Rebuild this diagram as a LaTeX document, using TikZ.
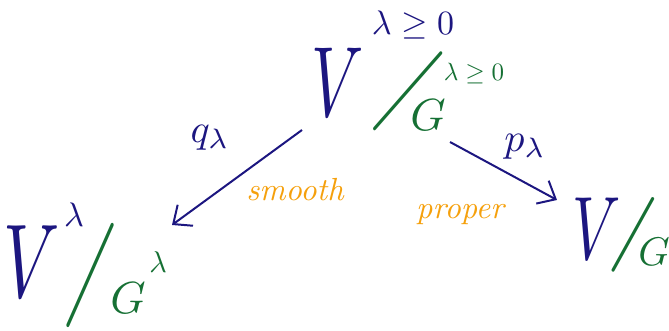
\documentclass[tikz,border=0pt]{standalone}
\usepackage{graphicx}
\usetikzlibrary{arrows.meta,calc}
\definecolor{quotblue}{RGB}{28,22,128}
\definecolor{quotgreen}{RGB}{22,112,52}
\definecolor{maporange}{RGB}{245,160,12}
\def\sz#1#2{\scalebox{#1}{#2}}
\def\quotslash#1#2{\rotatebox{#1}{\scalebox{8}[#2]{$/$}}}

\begin{document}
\begin{tikzpicture}[x=1pt,y=1pt,
  vtxt/.style={inner sep=0,text=quotblue},
  gtxt/.style={inner sep=0,text=quotgreen},
  mtxt/.style={inner sep=0,text=maporange,font=\itshape},
  maparrow/.style={quotblue,line width=2pt,-{Straight Barb[length=15pt,width=26pt,line width=2pt]}}]
  \useasboundingbox (0,0) rectangle (669,331);

  % top: V^{lambda>=0} / G^{lambda>=0}
  \node[vtxt] (tV) at (338,249) {\scalebox{6.5}[10]{$V$}};
  \node[vtxt] (tVsup) at (413,306) {\sz{3.4}{$\lambda\geq0$}};
  \node[gtxt] (tslash) at (408,240) {\quotslash{-25}{10}};
  \node[gtxt] (tG) at (428,216) {\sz{4.5}{$G$}};
  \node[gtxt] (tGsup) at (474,257) {\sz{2.5}{$\lambda\geq0$}};

  % left: V^lambda / G^lambda
  \node[vtxt] (lV) at (32,69) {\scalebox{7}[10.5]{$V$}};
  \node[vtxt] (lVsup) at (74,116) {\sz{3.4}{$\lambda$}};
  \node[gtxt] (lslash) at (91,56) {\quotslash{-9}{11}};
  \node[gtxt] (lG) at (128,33) {\sz{4.5}{$G$}};
  \node[gtxt] (lGsup) at (158,69) {\sz{3}{$\lambda$}};

  % right: V / G
  \node[vtxt] (rV) at (597,102) {\scalebox{6}[9]{$V$}};
  \node[gtxt] (rslash) at (633,96) {\quotslash{-9}{8}};
  \node[gtxt] (rG) at (654,79) {\sz{4}{$G$}};

  % maps
  \draw[maparrow] ($(tV)+(-36,-48)$) -- ($(lGsup)+(14,37)$);
  \draw[maparrow] ($(tG)+(22,-27)$) -- ($(rV)+(-40,29)$);

  \node[vtxt] (qlam) at (210,193) {\sz{4}{$q_\lambda$}};
  \node[mtxt] (smooth) at (295,141) {\sz{3.2}{smooth}};
  \node[vtxt] (plam) at (525,184) {\sz{4}{$p_\lambda$}};
  \node[mtxt] (proper) at (460,116) {\sz{3.2}{proper}};
\end{tikzpicture}
\end{document}
